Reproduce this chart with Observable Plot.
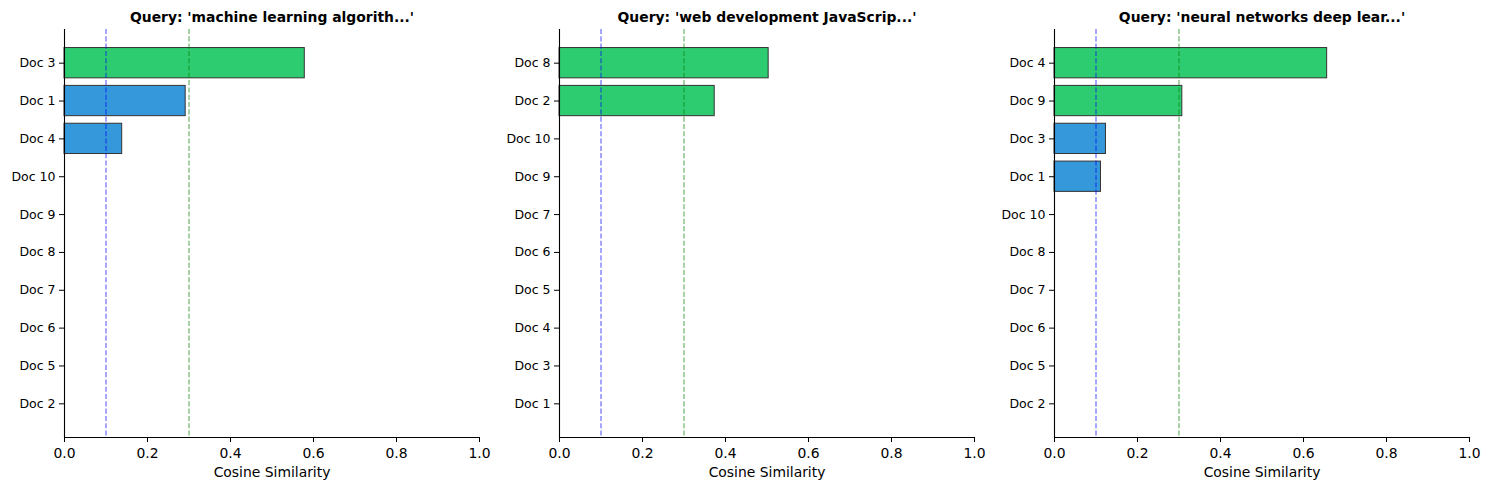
<!DOCTYPE html>
<html>
<head>
<meta charset="utf-8">
<script src="https://cdn.jsdelivr.net/npm/d3@7"></script>
<script src="https://cdn.jsdelivr.net/npm/@observablehq/plot@0.6"></script>
<style>
  html, body { margin: 0; padding: 0; background: #fff; }
  #root { position: relative; width: 1490px; height: 490px; font-family: "DejaVu Sans", sans-serif; }
  .panel { position: absolute; top: 0; }
</style>
</head>
<body>
<div id="root"></div>
<script>
const titles = [
  "Query: 'machine learning algorith...'",
  "Query: 'web development JavaScrip...'",
  "Query: 'neural networks deep lear...'"
];
// documents ranked top to bottom, with cosine similarity
const docs1 = ["Doc 3", "Doc 1", "Doc 4", "Doc 10", "Doc 9", "Doc 8", "Doc 7", "Doc 6", "Doc 5", "Doc 2"];
const sims1 = [0.579, 0.292, 0.139, 0, 0, 0, 0, 0, 0, 0];
const docs2 = ["Doc 8", "Doc 2", "Doc 10", "Doc 9", "Doc 7", "Doc 6", "Doc 5", "Doc 4", "Doc 3", "Doc 1"];
const sims2 = [0.504, 0.374, 0, 0, 0, 0, 0, 0, 0, 0];
const docs3 = ["Doc 4", "Doc 9", "Doc 3", "Doc 1", "Doc 10", "Doc 8", "Doc 7", "Doc 6", "Doc 5", "Doc 2"];
const sims3 = [0.657, 0.308, 0.124, 0.112, 0, 0, 0, 0, 0, 0];
const xTicks = [0, 0.2, 0.4, 0.6, 0.8, 1.0];
const thresholdLow = 0.1;
const thresholdHigh = 0.3;

const panels = [
  {title: titles[0], docs: docs1, sims: sims1, left: 0},
  {title: titles[1], docs: docs2, sims: sims2, left: 495},
  {title: titles[2], docs: docs3, sims: sims3, left: 990}
];

const root = document.getElementById("root");
for (const p of panels) {
  const data = p.docs.map((d, i) => ({doc: d, sim: p.sims[i]}));
  const bars = data.filter(d => d.sim > 0);
  const chart = Plot.plot({
    width: 495,
    height: 490,
    marginLeft: 64,
    marginRight: 16,
    marginTop: 29,
    marginBottom: 53,
    style: {fontFamily: "DejaVu Sans, sans-serif", fontSize: "12.5px", color: "#000", background: "#fff"},
    x: {domain: [0, 1], ticks: xTicks, tickFormat: d3.format(".1f"), label: null},
    y: {domain: p.docs, paddingInner: 0.2, paddingOuter: 0.49, round: false, label: null},
    marks: [
      Plot.barX(bars, {
        y: "doc", x: "sim",
        fill: d => d.sim >= thresholdHigh ? "#2ecc71" : "#3498db",
        stroke: "#333", strokeWidth: 1
      }),
      Plot.ruleX([thresholdLow], {stroke: "blue", strokeOpacity: 0.5, strokeDasharray: "5.1,2.2", strokeWidth: 1.39}),
      Plot.ruleX([thresholdHigh], {stroke: "green", strokeOpacity: 0.5, strokeDasharray: "5.1,2.2", strokeWidth: 1.39}),
      Plot.ruleX([0], {stroke: "#000", strokeWidth: 1.1}),
      Plot.frame({anchor: "bottom", stroke: "#000", strokeWidth: 1.1}),
      Plot.axisX({ticks: xTicks, tickFormat: d3.format(".1f"), tickSize: 5, tickPadding: 6, fontSize: 13.9, label: null}),
      Plot.axisY({tickSize: 5, tickPadding: 4, fontSize: 12.5, label: null}),
      Plot.text(["Cosine Similarity"], {frameAnchor: "bottom", dy: 30, fontSize: 13.9, lineAnchor: "top"}),
      Plot.text([p.title], {frameAnchor: "top", dy: -8, fontSize: 13.9, fontWeight: "bold", lineAnchor: "bottom"})
    ]
  });
  chart.classList.add("panel");
  chart.style.left = p.left + "px";
  root.appendChild(chart);
}
</script>
</body>
</html>
